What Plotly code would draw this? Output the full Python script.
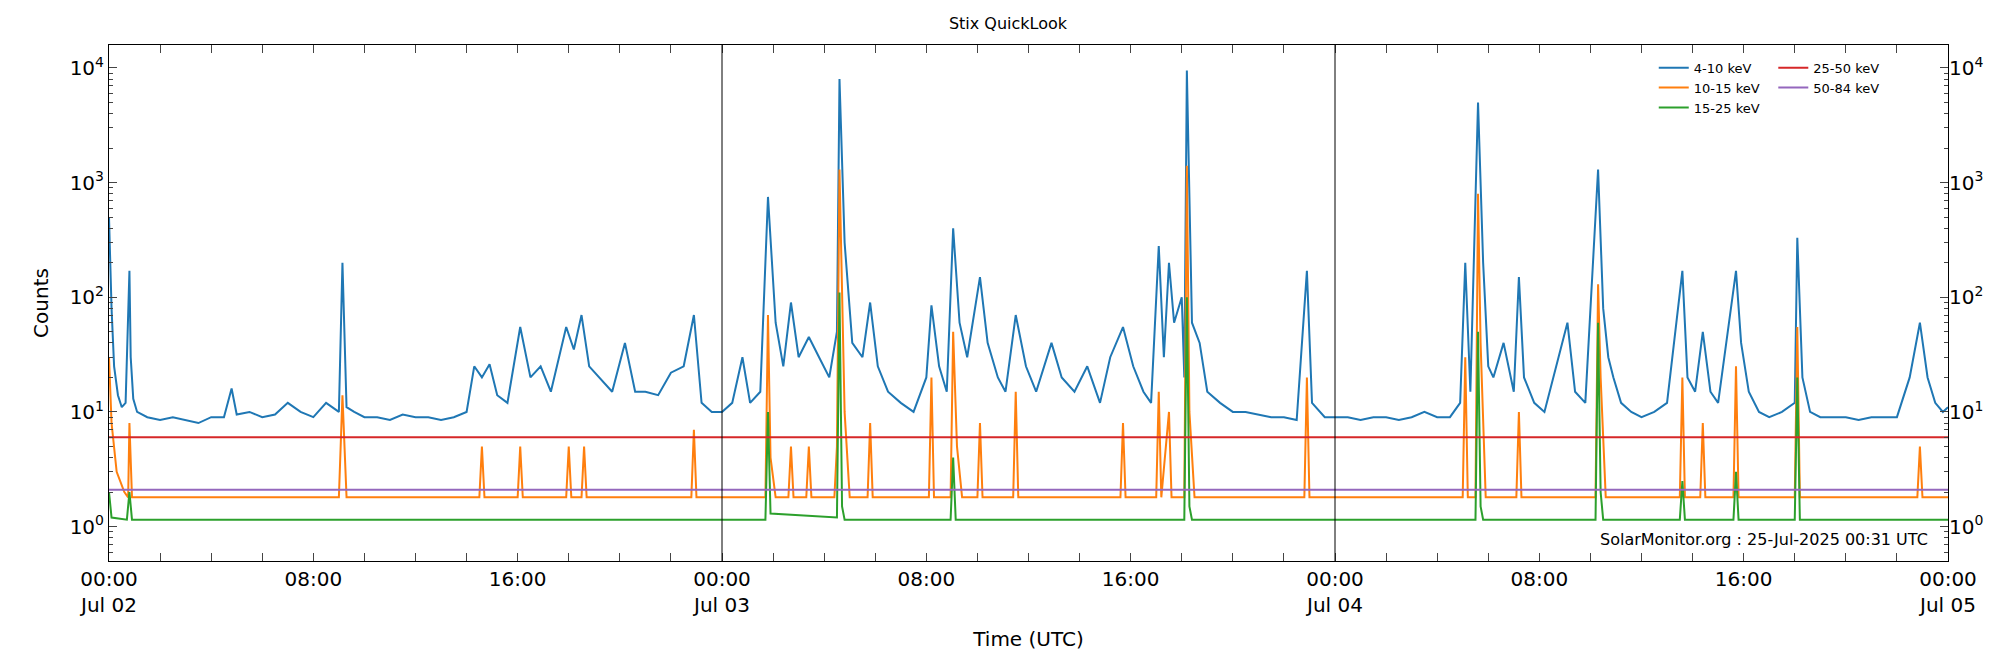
import plotly.graph_objects as go

# hours since 2025-07-02 00:00 UTC ; (time, counts) pairs
pts_4_10 = [(0,500),(0.1,80),(0.2,25),(0.35,14),(0.5,11),(0.65,12),(0.8,170),(0.85,30),(0.95,13),(1.1,10),
 (1.5,9),(2,8.5),(2.5,9),(3,8.5),(3.5,8),(4,9),(4.5,9),(4.8,16),(5.0,9.5),(5.5,10),(6,9),(6.5,9.5),(7,12),
 (7.5,10),(8,9),(8.5,12),(9.0,10),(9.14,200),(9.3,11),(9.6,10),(10,9),(10.5,9),(11,8.5),(11.5,9.5),(12,9),
 (12.5,9),(13,8.5),(13.5,9),(14,10),(14.3,25),(14.6,20),(14.9,26),(15.2,14),(15.6,12),(16.1,55),(16.5,20),
 (16.9,25),(17.3,15),(17.9,55),(18.2,35),(18.5,70),(18.8,25),(19.2,20),(19.7,15),(20.2,40),(20.6,15),(21,15),
 (21.5,14),(22,22),(22.5,25),(22.9,70),(23.2,12),(23.6,10),(24,10),(24.4,12),(24.8,30),(25.1,12),(25.5,15),
 (25.8,750),(26.1,60),(26.4,25),(26.7,90),(27,30),(27.4,45),(27.8,30),(28.2,20),(28.5,50),(28.6,8000),
 (28.8,300),(29.1,40),(29.5,30),(29.8,90),(30.1,25),(30.5,15),(31,12),(31.5,10),(32,20),(32.2,85),(32.5,25),
 (32.8,15),(33.05,400),(33.3,60),(33.6,30),(34.1,150),(34.4,40),(34.8,20),(35.1,15),(35.5,70),(35.9,25),
 (36.3,15),(36.9,40),(37.3,20),(37.8,15),(38.3,25),(38.8,12),(39.2,30),(39.7,55),(40.1,25),(40.5,15),
 (40.8,12),(41.1,280),(41.3,30),(41.5,200),(41.7,60),(42.0,100),(42.1,20),(42.2,9500),(42.4,60),(42.7,40),
 (43.0,15),(43.5,12),(44,10),(44.5,10),(45,9.5),(45.5,9),(46,9),(46.5,8.5),(46.9,170),(47.1,12),(47.6,9),
 (48,9),(48.5,9),(49,8.5),(49.5,9),(50,9),(50.5,8.5),(51,9),(51.5,10),(52,9),(52.5,9),(52.9,12),(53.1,200),
 (53.3,15),(53.6,5000),(53.8,200),(54,25),(54.2,20),(54.6,40),(55.0,15),(55.2,150),(55.4,20),(55.8,12),
 (56.2,10),(57.1,60),(57.4,15),(57.8,12),(58.1,200),(58.3,1300),(58.5,80),(58.7,30),(58.9,20),(59.2,12),
 (59.6,10),(60,9),(60.5,10),(61,12),(61.6,170),(61.8,20),(62.1,15),(62.4,50),(62.7,15),(63,12),(63.7,170),
 (63.9,40),(64.2,15),(64.6,10),(65,9),(65.5,10),(66.0,12),(66.1,330),(66.3,20),(66.6,10),(67,9),(67.5,9),
 (68,9),(68.5,8.5),(69,9),(69.5,9),(70,9),(70.5,20),(70.9,60),(71.2,20),(71.5,12),(71.8,10),(72,11)]

pts_10_15 = [(0,30),(0.1,8),(0.3,3),(0.6,2),(0.75,1.8),(0.8,8),(0.9,1.8),(3,1.8),(5,1.8),(7,1.8),(9.0,1.8),
 (9.14,14),(9.3,1.8),(14.5,1.8),(14.6,5),(14.7,1.8),(16.0,1.8),(16.1,5),(16.2,1.8),(17.9,1.8),(18.0,5),(18.1,1.8),
 (18.5,1.8),(18.6,5),(18.7,1.8),(22.8,1.8),(22.9,7),(23.0,1.8),(25.7,1.8),(25.8,70),(25.9,4),(26.1,1.8),
 (26.6,1.8),(26.7,5),(26.8,1.8),(27.3,1.8),(27.4,5),(27.5,1.8),(28.4,1.8),(28.5,5),(28.6,1300),(28.8,10),
 (29.0,1.8),(29.7,1.8),(29.8,8),(29.9,1.8),(32.1,1.8),(32.2,20),(32.3,1.8),(32.95,1.8),(33.05,50),(33.2,5),
 (33.4,1.8),(34.0,1.8),(34.1,8),(34.2,1.8),(35.4,1.8),(35.5,15),(35.6,1.8),(39.6,1.8),(39.7,8),(39.8,1.8),
 (41.0,1.8),(41.1,15),(41.2,1.8),(41.5,10),(41.6,1.8),(42.1,1.8),(42.2,1400),(42.3,10),(42.5,1.8),
 (46.8,1.8),(46.9,20),(47.0,1.8),(53.0,1.8),(53.1,30),(53.2,1.8),(53.5,1.8),(53.6,800),(53.7,40),(53.9,1.8),
 (55.1,1.8),(55.2,10),(55.3,1.8),(58.2,1.8),(58.3,130),(58.4,20),(58.6,1.8),(61.5,1.8),(61.6,20),(61.7,1.8),
 (62.3,1.8),(62.4,8),(62.5,1.8),(63.6,1.8),(63.7,25),(63.8,1.8),(66.0,1.8),(66.1,55),(66.2,1.8),
 (70.8,1.8),(70.9,5),(71.0,1.8),(72,1.8)]

pts_15_25 = [(0,2),(0.1,1.2),(0.7,1.15),(0.8,2),(0.9,1.15),(25.7,1.15),(25.8,10),(25.9,1.3),(28.5,1.2),
 (28.6,110),(28.7,1.5),(28.8,1.15),(32.95,1.15),(33.05,4),(33.15,1.15),(42.1,1.15),(42.2,100),(42.3,1.5),
 (42.4,1.15),(53.5,1.15),(53.6,50),(53.7,1.5),(53.8,1.15),(58.2,1.15),(58.3,60),(58.4,2),(58.5,1.15),
 (61.5,1.15),(61.6,2.5),(61.7,1.15),(63.6,1.15),(63.7,3),(63.8,1.15),(66.0,1.15),(66.1,20),(66.2,1.15),(72,1.15)]

pts_25_50 = [(0, 6), (24, 6), (48, 6), (72, 6)]
pts_50_84 = [(0, 2.1), (24, 2.1), (48, 2.1), (72, 2.1)]

x_tickvals = [0, 8, 16, 24, 32, 40, 48, 56, 64, 72]
x_ticktext = ["00:00<br>Jul 02", "08:00", "16:00", "00:00<br>Jul 03", "08:00", "16:00",
              "00:00<br>Jul 04", "08:00", "16:00", "00:00<br>Jul 05"]
y_tickvals = [1, 10, 100, 1000, 10000]
y_ticktext = ["10<sup>0</sup>", "10<sup>1</sup>", "10<sup>2</sup>", "10<sup>3</sup>", "10<sup>4</sup>"]
minor_vals = [m * 10**k for k in range(-1, 5) for m in range(2, 10)]

fig = go.Figure()
series = [("4-10 keV", pts_4_10, "#1f77b4", "legend"),
          ("10-15 keV", pts_10_15, "#ff7f0e", "legend"),
          ("15-25 keV", pts_15_25, "#2ca02c", "legend"),
          ("25-50 keV", pts_25_50, "#d62728", "legend2"),
          ("50-84 keV", pts_50_84, "#9467bd", "legend2")]
for name, pts, c, lg in series:
    fig.add_trace(go.Scatter(x=[p[0] for p in pts], y=[p[1] for p in pts], name=name, mode="lines",
                             line=dict(color=c, width=2), legend=lg))
fig.add_trace(go.Scatter(x=[0], y=[1], yaxis="y2", showlegend=False, mode="markers", marker=dict(opacity=0)))

for d in [24, 48]:
    fig.add_vline(x=d, line=dict(color="black", width=1))

yr = [-0.3, 4.2]
axis_common = dict(type="log", range=yr, tickvals=y_tickvals, ticktext=y_ticktext, ticks="inside",
                   ticklen=8, tickfont=dict(size=20, family="DejaVu Sans"),
                   minor=dict(tickvals=minor_vals, ticks="inside", ticklen=4), showgrid=False)
fig.update_layout(
    width=2000, height=650, plot_bgcolor="white", paper_bgcolor="white",
    margin=dict(l=101, r=60, t=37, b=89),
    title=dict(text="Stix QuickLook", x=0.5, xanchor="center", y=0.985, font=dict(size=16, family="DejaVu Sans")),
    font=dict(family="DejaVu Sans", color="black"),
    xaxis=dict(range=[0, 72], tickvals=x_tickvals, ticktext=x_ticktext, ticks="inside", ticklen=8,
               tickfont=dict(size=20), showgrid=False, zeroline=False, mirror="allticks",
               showline=True, linecolor="black", linewidth=1,
               minor=dict(dtick=2, ticks="inside", ticklen=4),
               title=dict(text="Time (UTC)", font=dict(size=20))),
    yaxis=dict(**axis_common, showline=True, linecolor="black", mirror=True,
               title=dict(text="Counts", font=dict(size=20))),
    yaxis2=dict(**axis_common, overlaying="y", side="right"),
    legend=dict(x=0.84, y=0.985, xanchor="left", yanchor="top", bgcolor="rgba(255,255,255,0.8)",
                font=dict(size=13), tracegroupgap=0),
    legend2=dict(x=0.905, y=0.985, xanchor="left", yanchor="top", bgcolor="rgba(255,255,255,0)",
                 font=dict(size=13)),
    annotations=[dict(text="SolarMonitor.org : 25-Jul-2025 00:31 UTC", xref="paper", yref="paper",
                      x=0.99, y=0.02, xanchor="right", yanchor="bottom", showarrow=False,
                      font=dict(size=16))],
)
fig.write_html("out.html")
